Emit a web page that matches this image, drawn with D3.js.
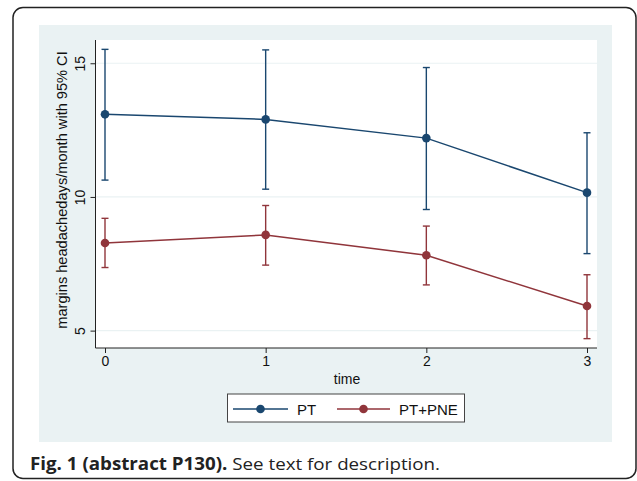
<!DOCTYPE html>
<html><head><meta charset="utf-8">
<script src="https://cdn.jsdelivr.net/npm/d3@7"></script>
<style>html,body{margin:0;padding:0;background:#fff}svg{display:block}</style>
</head><body>
<script>
const times = [0, 1, 2, 3];
const yTicks = [5, 10, 15];
const ptMean = [13.09, 12.90, 12.20, 10.16];
const ptLow  = [10.63, 10.29, 9.53, 7.88];
const ptHigh = [15.52, 15.50, 14.84, 12.40];
const pneMean = [8.28, 8.58, 7.82, 5.92];
const pneLow  = [7.36, 7.45, 6.71, 4.70];
const pneHigh = [9.20, 9.68, 8.91, 7.09];
const seriesNames = ["PT", "PT+PNE"];
const seriesColors = ["#1a476f", "#90353b"];

const W = 637, H = 481;
const svg = d3.select("body").append("svg").attr("width", W).attr("height", H);

// outer frame
svg.append("rect").attr("x", 13).attr("y", 7.5).attr("width", 623).attr("height", 471)
  .attr("rx", 10).attr("fill", "#fff").attr("stroke", "#222").attr("stroke-width", 1.5);
// graph region
svg.append("rect").attr("x", 39).attr("y", 25).attr("width", 573).attr("height", 417).attr("fill", "#eaf2f3");

const plot = {left: 95.5, right: 597, top: 40, bottom: 348};
svg.append("rect").attr("x", plot.left).attr("y", plot.top)
  .attr("width", plot.right - plot.left).attr("height", plot.bottom - plot.top).attr("fill", "#fff");

const x = d3.scaleLinear().domain([0, 3]).range([105, 587]);
const y = d3.scaleLinear().domain([4.35, 15.87]).range([plot.bottom, plot.top]);

// gridlines
svg.append("g").selectAll("line").data(yTicks).join("line")
  .attr("x1", plot.left).attr("x2", plot.right)
  .attr("y1", d => y(d)).attr("y2", d => y(d))
  .attr("stroke", "#eaf2f3").attr("stroke-width", 1.2);

const font = "'Liberation Sans', Arial, Helvetica, sans-serif";

// y axis
const yAxis = svg.append("g").attr("transform", `translate(${plot.left},0)`)
  .call(d3.axisLeft(y).tickValues(yTicks).tickSize(5).tickPadding(3));
yAxis.select(".domain").attr("d", `M0,${plot.top}V${plot.bottom}`).attr("stroke", "#222");
yAxis.selectAll(".tick line").attr("stroke", "#222");
yAxis.selectAll(".tick text").attr("transform", "rotate(-90)")
  .attr("x", 0).attr("y", -15).attr("dy", "0.35em").attr("text-anchor", "middle")
  .style("font-family", font).style("font-size", "14px").attr("fill", "#111");

// x axis
const xAxis = svg.append("g").attr("transform", `translate(0,${plot.bottom})`)
  .call(d3.axisBottom(x).tickValues(times).tickFormat(d3.format("d")).tickSize(5).tickPadding(3));
xAxis.select(".domain").attr("d", `M${plot.left},0H${plot.right}`).attr("stroke", "#222");
xAxis.selectAll(".tick line").attr("stroke", "#222");
xAxis.selectAll(".tick text").style("font-family", font).style("font-size", "14px").attr("fill", "#111");

// axis titles
svg.append("text").attr("transform", "translate(67,190) rotate(-90)").attr("text-anchor", "middle")
  .style("font-family", font).style("font-size", "14.6px").attr("fill", "#111")
  .text("margins headachedays/month with 95% CI");
svg.append("text").attr("x", 347).attr("y", 384).attr("text-anchor", "middle")
  .style("font-family", font).style("font-size", "14px").attr("fill", "#111").text("time");

// series
const series = [
  {mean: ptMean, low: ptLow, high: ptHigh},
  {mean: pneMean, low: pneLow, high: pneHigh}
];
const line = d3.line().x((d, i) => x(times[i])).y(d => y(d));
series.forEach((s, k) => {
  const c = seriesColors[k];
  const g = svg.append("g");
  g.append("path").attr("d", line(s.mean)).attr("fill", "none").attr("stroke", c).attr("stroke-width", 1.5);
  times.forEach((t, i) => {
    g.append("line").attr("x1", x(t)).attr("x2", x(t)).attr("y1", y(s.low[i])).attr("y2", y(s.high[i]))
      .attr("stroke", c).attr("stroke-width", 1.4);
    [s.low[i], s.high[i]].forEach(v => {
      g.append("line").attr("x1", x(t) - 3.5).attr("x2", x(t) + 3.5).attr("y1", y(v)).attr("y2", y(v))
        .attr("stroke", c).attr("stroke-width", 1.4);
    });
  });
  g.selectAll("circle").data(s.mean).join("circle")
    .attr("cx", (d, i) => x(times[i])).attr("cy", d => y(d)).attr("r", 4.3).attr("fill", c);
});

// legend
const lg = svg.append("g");
lg.append("rect").attr("x", 227.5).attr("y", 394).attr("width", 237).attr("height", 28)
  .attr("fill", "#fff").attr("stroke", "#444").attr("stroke-width", 1);
const legX = [[233, 288, 297], [337, 390, 399]];
seriesNames.forEach((n, k) => {
  const [a, b, tx] = legX[k];
  lg.append("line").attr("x1", a).attr("x2", b).attr("y1", 409).attr("y2", 409)
    .attr("stroke", seriesColors[k]).attr("stroke-width", 1.5);
  lg.append("circle").attr("cx", (a + b) / 2).attr("cy", 409).attr("r", 4.3).attr("fill", seriesColors[k]);
  lg.append("text").attr("x", tx).attr("y", 414.5).style("font-family", font).style("font-size", "15px")
    .attr("fill", "#111").text(n);
});

// caption
const cap = svg.append("text").attr("x", 30).attr("y", 470)
  .style("font-family", "'Open Sans', 'Noto Sans', sans-serif").style("font-size", "17px").attr("fill", "#222")
  .attr("textLength", 410).attr("lengthAdjust", "spacingAndGlyphs");
cap.append("tspan").style("font-weight", "bold").text("Fig. 1 (abstract P130).");
cap.append("tspan").text(" See text for description.");
</script>
</body></html>
